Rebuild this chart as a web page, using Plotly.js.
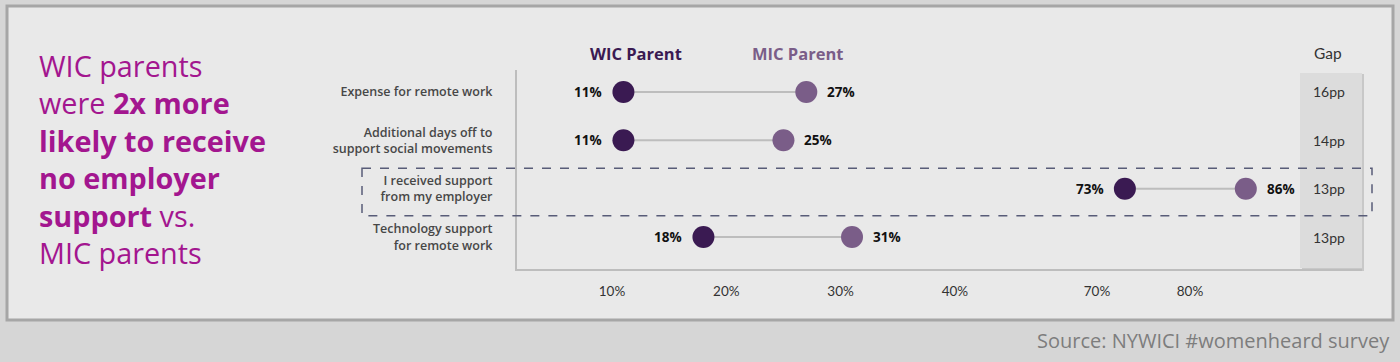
<!DOCTYPE html>
<html>
<head>
<meta charset="utf-8">
<script src="https://cdn.plot.ly/plotly-3.0.1.min.js"></script>
<style>
html,body{margin:0;padding:0;background:#d8d8d8;}
#chart{width:1400px;height:362px;}
</style>
</head>
<body>
<div id="chart"></div>
<script>
// ---- data ----
const categories = [
  "Expense for remote work",
  "Additional days off to<br>support social movements",
  "I received support<br>from my employer",
  "Technology support<br>for remote work"
];
const wicValues = [11, 11, 73, 18];
const micValues = [27, 25, 86, 31];
const seriesNames = ["WIC Parent", "MIC Parent"];
const tickValsLow = [10, 20, 30, 40];
const tickValsHigh = [70, 80];
const highlighted = "I received support<br>from my employer";
const titleLines = [
  "WIC parents",
  "were <b>2x more</b>",
  "<b>likely to receive</b>",
  "<b>no employer</b>",
  "<b>support</b> vs.",
  "MIC parents"
];
const sourceText = "Source: NYWICI #womenheard survey";

// ---- style ----
const W = 1400, H = 362;
const px = v => v / W;            // pixel x -> paper
const py = v => 1 - v / H;        // pixel y -> paper
const WIC_COLOR = "#3a1a52";
const MIC_COLOR = "#7a5d88";
const FONT = "Lato, 'Open Sans', sans-serif";
const OFONT = "'Open Sans', sans-serif";
const BREAK = 50;

const traces = [];
const annotations = [];

categories.forEach((cat, i) => {
  const w = wicValues[i], m = micValues[i];
  const ax = (w < BREAK) ? "x" : "x2";
  traces.push({
    type: "scatter", mode: "lines", x: [w, m], y: [cat, cat],
    xaxis: ax, yaxis: "y", line: {color: "#bdbdbd", width: 2},
    hoverinfo: "skip", showlegend: false
  });
  traces.push({
    type: "scatter", mode: "markers", x: [w], y: [cat], name: seriesNames[0],
    xaxis: ax, yaxis: "y", marker: {color: WIC_COLOR, size: 22},
    showlegend: false
  });
  traces.push({
    type: "scatter", mode: "markers", x: [m], y: [cat], name: seriesNames[1],
    xaxis: ax, yaxis: "y", marker: {color: MIC_COLOR, size: 22},
    showlegend: false
  });
  annotations.push({
    x: w, y: cat, xref: ax, yref: "y", text: "<b>" + w + "%</b>",
    showarrow: false, xanchor: "right", yanchor: "middle", xshift: -19,
    font: {family: OFONT, size: 13.5, color: "#111", weight: 800}
  });
  annotations.push({
    x: m, y: cat, xref: ax, yref: "y", text: "<b>" + m + "%</b>",
    showarrow: false, xanchor: "left", yanchor: "middle", xshift: 19,
    font: {family: OFONT, size: 13.5, color: "#111", weight: 800}
  });
  annotations.push({
    x: px(1329), y: cat, xref: "paper", yref: "y", text: (m - w) + "pp",
    showarrow: false, xanchor: "center", yanchor: "middle",
    font: {family: FONT, size: 14, color: "#333"}
  });
});

// legend-like headers
annotations.push({x: px(636), y: py(54), xref: "paper", yref: "paper", text: "<b>" + seriesNames[0] + "</b>",
  showarrow: false, xanchor: "center", yanchor: "middle", font: {family: OFONT, size: 16.5, color: WIC_COLOR}});
annotations.push({x: px(798), y: py(54), xref: "paper", yref: "paper", text: "<b>" + seriesNames[1] + "</b>",
  showarrow: false, xanchor: "center", yanchor: "middle", font: {family: OFONT, size: 16.5, color: MIC_COLOR}});
annotations.push({x: px(1328), y: py(53), xref: "paper", yref: "paper", text: "Gap",
  showarrow: false, xanchor: "center", yanchor: "middle", font: {family: FONT, size: 15.5, color: "#333"}});
// left headline (single multi-line text block)
annotations.push({x: px(37), y: py(44), xref: "paper", yref: "paper", text: titleLines.join("<br>"),
  showarrow: false, xanchor: "left", yanchor: "top", align: "left",
  font: {family: OFONT, size: 28.8, color: "#a3168f"}});
// source
annotations.push({x: px(1392), y: py(340), xref: "paper", yref: "paper", text: sourceText,
  showarrow: false, xanchor: "right", yanchor: "middle", font: {family: OFONT, size: 20, color: "#7d7d7d"}});

const hiIdx = categories.indexOf(highlighted);

const shapes = [
  // frame
  {type: "rect", xref: "paper", yref: "paper", x0: px(7), x1: px(1393), y0: py(320), y1: py(6),
   fillcolor: "#e9e9e9", line: {color: "#a6a6a6", width: 3}, layer: "below"},
  // gap column shadow
  {type: "rect", xref: "paper", yref: "paper", x0: px(1302), x1: px(1364), y0: py(271), y1: py(74),
   fillcolor: "#c8c8c8", line: {width: 0}, layer: "below"},
  // gap column
  {type: "rect", xref: "paper", yref: "paper", x0: px(1300), x1: px(1362), y0: py(268), y1: py(73),
   fillcolor: "#dcdcdc", line: {width: 0}, layer: "below"},
  // highlight dashed box
  {type: "rect", xref: "paper", yref: "y", x0: px(362), x1: px(1372), y0: hiIdx - 0.42, y1: hiIdx + 0.56,
   fillcolor: "rgba(0,0,0,0)", line: {color: "#585c78", width: 1.5, dash: "dash"}, layer: "above"}
];

const axisFont = {family: FONT, size: 13.5, color: "#333"};
const layout = {
  width: W, height: H,
  margin: {l: 0, r: 0, t: 0, b: 0},
  paper_bgcolor: "#d6d6d6",
  plot_bgcolor: "rgba(0,0,0,0)",
  showlegend: false,
  xaxis: {
    domain: [px(517), px(1010)], range: [1.69, 44.82],
    tickvals: tickValsLow, ticktext: tickValsLow.map(v => v + "%"),
    showgrid: false, zeroline: false, showline: true, linecolor: "#bdbdbd", linewidth: 2,
    ticks: "outside", ticklen: 9, tickcolor: "rgba(0,0,0,0)", tickfont: axisFont,
    anchor: "y", fixedrange: true
  },
  xaxis2: {
    domain: [px(1010), px(1362)], range: [60.65, 98.49],
    tickvals: tickValsHigh, ticktext: tickValsHigh.map(v => v + "%"),
    showgrid: false, zeroline: false, showline: true, linecolor: "#bdbdbd", linewidth: 2,
    ticks: "outside", ticklen: 9, tickcolor: "rgba(0,0,0,0)", tickfont: axisFont,
    anchor: "y", fixedrange: true
  },
  yaxis: {
    domain: [py(269), py(70)],
    type: "category", categoryorder: "array", categoryarray: categories,
    range: [3.662, -0.455],
    showgrid: false, zeroline: false, showline: true, linecolor: "#bdbdbd", linewidth: 2,
    ticks: "outside", ticklen: 20, tickcolor: "rgba(0,0,0,0)",
    tickfont: {family: OFONT, size: 12.5, color: "#474747", weight: 600},
    anchor: "x", fixedrange: true
  },
  shapes: shapes,
  annotations: annotations
};

Plotly.newPlot("chart", traces, layout, {displayModeBar: false, staticPlot: true});
</script>
</body>
</html>
